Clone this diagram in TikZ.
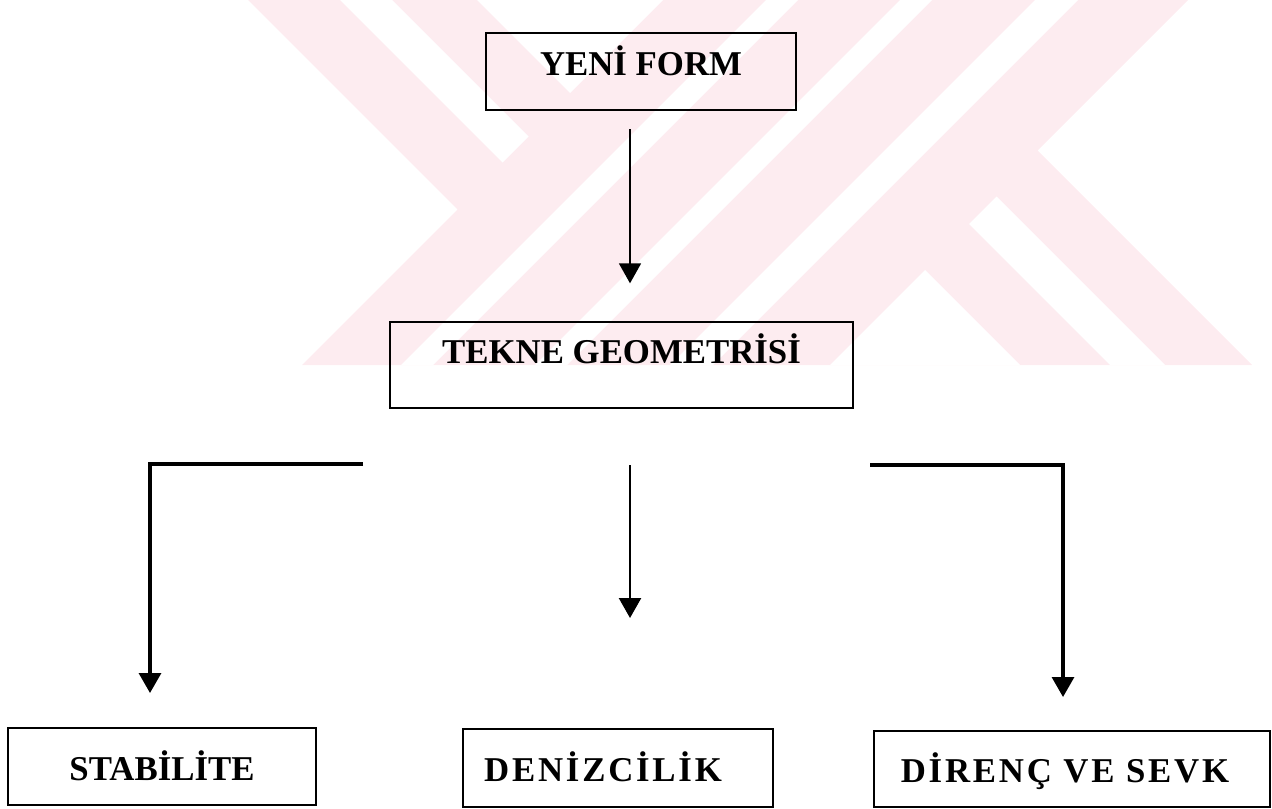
\documentclass[tikz,border=0pt]{standalone}
\usepackage{fontspec}
\setmainfont{Liberation Serif}
\usetikzlibrary{arrows.meta,calc}
\definecolor{wmpink}{RGB}{253,236,240}
\tikzset{>={Triangle[length=10pt,width=11pt]},
  kutu/.style={draw, line width=1.3pt, inner sep=0pt, align=center,
    font=\bfseries\fontsize{17.4}{20}\selectfont, text height=11.5pt},
  feed/.style={line width=0.9pt},
  branch/.style={line width=1.6pt, line join=miter}}

\begin{document}
\begin{tikzpicture}[x=0.5pt,y=-0.5pt]
    \useasboundingbox (0,0) rectangle (1272,808);
    \fill[wmpink] (248,0) -- (1188,0) -- (1037.5,150.5) -- (1252,365) -- (302,365) -- (457.5,209.5) -- cycle;
    \fill[white] (340,0) -- (392,0) -- (528.5,136.5) -- (502.5,162.5) -- cycle;
    \fill[white] (477,0) -- (663,0) -- (570,93) -- cycle;
    \fill[white] (766,0) -- (798,0) -- (433,365) -- (401,365) -- cycle;
    \fill[white] (900,0) -- (932,0) -- (567,365) -- (535,365) -- cycle;
    \fill[white] (1035,0) -- (1078,0) -- (713,365) -- (670,365) -- cycle;
    \fill[white] (969,224) -- (996.5,196.5) -- (1165,365) -- (1110,365) -- cycle;
    \fill[white] (925,270) -- (1020,365) -- (830,365) -- cycle;
    \node[kutu, minimum width=155pt, minimum height=38.5pt, text depth=7.5pt] (yeni) at (641,71.5) {YENİ FORM};
    \node[kutu, minimum width=231.5pt, minimum height=43pt, text depth=13.5pt] (tekne) at (621.5,365) {TEKNE GEOMETRİSİ};
    \node[kutu, minimum width=154pt, minimum height=38.5pt, text height=13.5pt, text depth=0pt] (stab) at (162,766.5) {STABİLİTE};
    \node[kutu, minimum width=155pt, minimum height=39pt, text height=13.5pt, text depth=0pt] (deniz) at (618,768) {\addfontfeatures{LetterSpace=8}DENİZCİLİK\kern15pt};
    \node[kutu, minimum width=198pt, minimum height=38pt, text height=13.5pt, text depth=0pt] (direnc) at (1072,769) {\addfontfeatures{LetterSpace=8}DİRENÇ VE SEVK\kern7pt};
    \draw[feed,->] (yeni.south) ++(-11,18) -- ++(0,154);
    \coordinate (lfree) at (363,464);
    \coordinate (lknee) at (150,464);
    \coordinate (ltip) at (150,693);
    \coordinate (mfree) at (630,465);
    \coordinate (mtip) at (630,618);
    \coordinate (rfree) at (870,465);
    \coordinate (rknee) at (1063,465);
    \coordinate (rtip) at (1063,697);
    \draw[branch,->] (lfree) -- (lknee) -- (ltip);
    \draw[branch,line width=1.2pt,->] (mfree) -- (mtip);
    \draw[branch,->] (rfree) -- (rknee) -- (rtip);
\end{tikzpicture}
\end{document}
